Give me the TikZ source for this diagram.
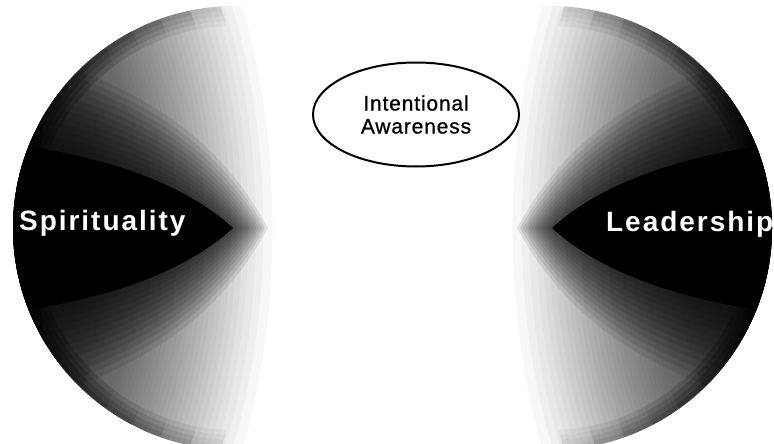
\documentclass[tikz,border=0pt]{standalone}
\usepackage{fontspec}
\setmainfont{Liberation Sans}
\newfontfamily\labfont[LetterSpace=7]{Liberation Sans}
\newfontfamily\iafont[LetterSpace=4,FakeBold=0.8]{Liberation Sans}
\usetikzlibrary{shapes.geometric}
\begin{document}
\begin{tikzpicture}[x=1pt,y=-1pt,
  bglayer/.style={fill=black, fill opacity=0.03},
  rimlayer/.style={draw=black, draw opacity=0.035},
  hornlayer/.style={fill=black, fill opacity=0.09},
  sidelabel/.style={anchor=base west, inner sep=0pt, text=white,
    font=\labfont\bfseries\fontsize{28pt}{30pt}\selectfont},
  focusnode/.style={draw, ellipse, fill=white, line width=2pt,
    minimum width=206pt, minimum height=104pt, inner sep=0pt, align=center,
    font=\iafont\fontsize{21pt}{23pt}\selectfont}]
\useasboundingbox (0,0) rectangle (774,444);
\foreach \side in {0,1} {
  \begin{scope}[shift={(785*\side,0)}, xscale={1-2*\side}]
    \clip (235,228) circle (222pt);
    % broad fade from the rim towards the middle
    \foreach \k in {1,...,56} {
      \pgfmathsetmacro\R{347-242*(\k/56)^0.7}
      \pgfmathsetmacro\Ry{1.6*\R}
      \fill[bglayer] (-60,228) ellipse [x radius=\R pt, y radius=\Ry pt];
    }
    % slightly darker rim
    \foreach \m in {1,...,8} {
      \begin{scope}
        \pgfmathsetmacro\R{345-28*\m}
        \pgfmathsetmacro\Ry{1.5*\R}
        \clip (-60,228) ellipse [x radius=\R pt, y radius=\Ry pt];
        \foreach \w in {10,20,30,40} {
          \draw[rimlayer, line width=\w pt] (235,228) circle (222pt);
        }
      \end{scope}
    }
    % horn pointing to the middle
    \foreach \j in {0,...,12} {
      \pgfmathsetmacro\u{\j/12}
      \pgfmathsetmacro\X{268-35*\u}
      \pgfmathsetmacro\wa{110-55*\u}
      \pgfmathsetmacro\wb{160-80*\u}
      \pgfmathsetmacro\wc{190-100*\u}
      \fill[hornlayer] (\X,228) .. controls ({\X-60},{228-\wa}) and ({\X-160},{228-\wb}) .. (-40,{228-\wc})
        -- (-40,{228+\wc}) .. controls ({\X-160},{228+\wb}) and ({\X-60},{228+\wa}) .. (\X,228) -- cycle;
    }
    \fill[black] (233,228) .. controls (173,173) and (73,148) .. (-40,138)
      -- (-40,318) .. controls (73,308) and (173,283) .. (233,228) -- cycle;
  \end{scope}
}
\node[sidelabel] (spir) at (19,230) {Spirituality};
\node[sidelabel] (lead) at (606,231) {Leadership};
\node[focusnode] (ia) at (416,114.5) {Intentional\\Awareness};
\end{tikzpicture}
\end{document}
